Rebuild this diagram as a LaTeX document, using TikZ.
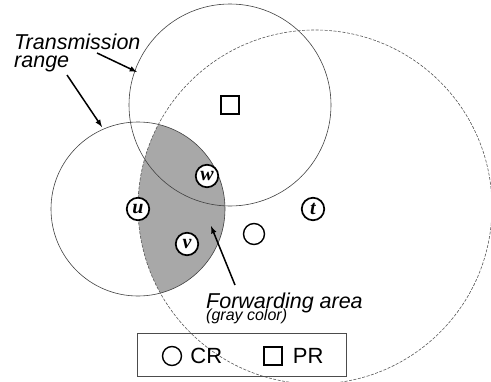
\documentclass[tikz,border=0pt]{standalone}
\usepackage{fontspec}
\setsansfont{Liberation Sans}
\newfontfamily\hostfont{Liberation Serif}
\usetikzlibrary{positioning}
\definecolor{lensgray}{RGB}{168,168,168}
\begin{document}
\begin{tikzpicture}[>=latex, x=1pt, y=-1pt,
  host/.style={circle, draw, fill=white, line width=1.7pt, minimum size=22.5pt, inner sep=0pt,
    font=\hostfont\bfseries\itshape\fontsize{20}{20}\selectfont},
  crmark/.style={circle, draw, line width=1.4pt, minimum size=21pt, inner sep=0pt},
  prmark/.style={rectangle, draw, line width=1.4pt, minimum size=18pt, inner sep=0pt},
  txrange/.style={draw=black!75, line width=0.6pt},
  pointer/.style={->, line width=1.5pt},
  note/.style={font=\sffamily\itshape\fontsize{21.5}{18}\selectfont, inner sep=0pt},
  subnote/.style={font=\sffamily\itshape\fontsize{16}{16}\selectfont, inner sep=0pt},
  keytext/.style={font=\sffamily\fontsize{22}{22}\selectfont, inner sep=0pt}]
  \useasboundingbox (0,0) rectangle (491,381);
  % Mittelpunkte
  \coordinate (cu) at (138,209);
  \coordinate (ct) at (315,207);
  \coordinate (cp) at (230,105);
  % Weiterleitungsbereich
  \begin{scope}
    \clip (ct) circle (177pt);
    \fill[lensgray] (cu) circle (87pt);
  \end{scope}
  % Reichweiten
  \draw[txrange] (cu) circle (87pt);
  \draw[txrange] (cp) circle (101pt);
  \draw[txrange, dashed, dash pattern=on 3pt off 1.5pt, draw=black!65] (ct) circle (177pt);
  % Knoten
  \node[host] (u) at (cu) {u};
  \node[host] (w) at (207,176) {w};
  \node[host] (v) at (187,244) {v};
  \node[host] (t) at (313,209) {t};
  \node[crmark] (cr) at (254,234) {};
  \node[prmark] (pr) at (cp) {};
  % Beschriftungen
  \node[note, anchor=base west, align=left] (txlabel) at (14,67) {Transmission\\range};
  \node[note, anchor=base west] (fwd) at (206,308) {Forwarding area};
  \node[subnote, anchor=base west] (fwdsub) at (206,320) {(gray color)};
  \coordinate (a1) at (97,53);  \coordinate (h1) at (137,72);
  \coordinate (a2) at (67,75);  \coordinate (h2) at (102,127);
  \coordinate (a3) at (235,285); \coordinate (h3) at (211,226);
  \draw[pointer] (a1) -- (h1);
  \draw[pointer] (a2) -- (h2);
  \draw[pointer] (a3) -- (h3);
  % Legende
  \draw[black!70, line width=0.8pt] (137,333) rectangle (346,376);
  \node[crmark, minimum size=19pt] (crkey) at (172,356) {};
  \node[keytext, right=8pt of crkey] {CR};
  \node[prmark] (prkey) at (273,356) {};
  \node[keytext, right=10pt of prkey] {PR};
\end{tikzpicture}
\end{document}
